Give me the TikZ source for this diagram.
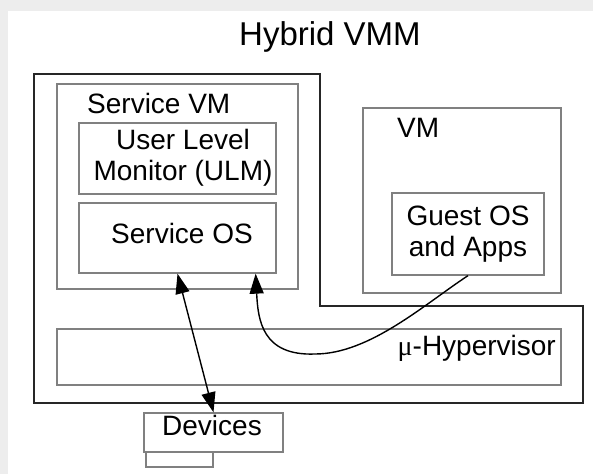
\documentclass[tikz,border=0pt]{standalone}
\usepackage{fontspec}
\setmainfont{Liberation Sans}
\newfontfamily\greekfont{Liberation Serif}
\usetikzlibrary{arrows.meta}

\begin{document}
\begin{tikzpicture}
        [x=1pt, y=-1pt,
        box/.style={draw=black!50, line width=1.3pt, inner sep=0pt},
        txt/.style={anchor=base, inner sep=0pt, font=\fontsize{28}{31}\selectfont},
        outer/.style={draw=black!85, line width=2pt},
        link/.style={black, line width=1.4pt},
        head/.style={arrows={-Triangle[length=20pt, width=14pt]}},
        dblhead/.style={arrows={Triangle[length=20pt, width=14pt]-Triangle[length=20pt, width=14pt]}}]

        % page and its shaded edge
        \useasboundingbox (0,0) rectangle (593,474);
        \fill[black!7] (0,0) rectangle (593,474);
        \fill[white] (8,11) rectangle (593,474);

        % the VMM outline
        \draw[outer] (34,74) -- (320,74) -- (320,306) -- (583,306) -- (583,403) -- (34,403) -- cycle;

        % boxes
        \node[box, minimum width=241, minimum height=205] (svm) at (177.5,186.5) {};
        \node[box, minimum width=197, minimum height=71] (ulm) at (177.5,158.5) {};
        \node[box, minimum width=197, minimum height=70] (svcos) at (177.5,238) {};
        \node[box, minimum width=198, minimum height=185] (vm) at (462,200.5) {};
        \node[box, minimum width=152, minimum height=82] (guest) at (468,234) {};
        \node[box, minimum width=504, minimum height=56] (hyp) at (309,357) {};
        \node[box, minimum width=139, minimum height=39] (devices) at (213.5,432.5) {};
        \node[box, minimum width=67, minimum height=15] (spare) at (179.5,459.5) {};

        % labels (base of a two-line label is its last line)
        \node[txt, font=\fontsize{33}{38}\selectfont] (title) at (330,45) {Hybrid VMM};
        \node[txt, anchor=base west] (svmname) at (87,113) {Service VM};
        \node[txt, align=center] (ulmname) at (183,180) {User Level\\Monitor (ULM)};
        \node[txt] (svcosname) at (182,243) {Service OS};
        \node[txt, anchor=base west] (vmname) at (397,137) {VM};
        \node[txt, align=center] (guestname) at (468,256) {Guest OS\\and Apps};
        \node[txt, anchor=base east] (hypname) at (556,355) {{\greekfont μ}-Hypervisor};
        \node[txt] (devname) at (212,435) {Devices};

        % connectors
        \coordinate (svcin) at ([xshift=-21pt]svcos.south east);
        \draw[link, dblhead] (svcos.south) -- (devices.north);
        \draw[link, head] (guest.south) .. controls (426,303) and (370,354) .. (315,354)
                .. controls (262,356) and (258,320) .. (svcin);

    \end{tikzpicture}
\end{document}
